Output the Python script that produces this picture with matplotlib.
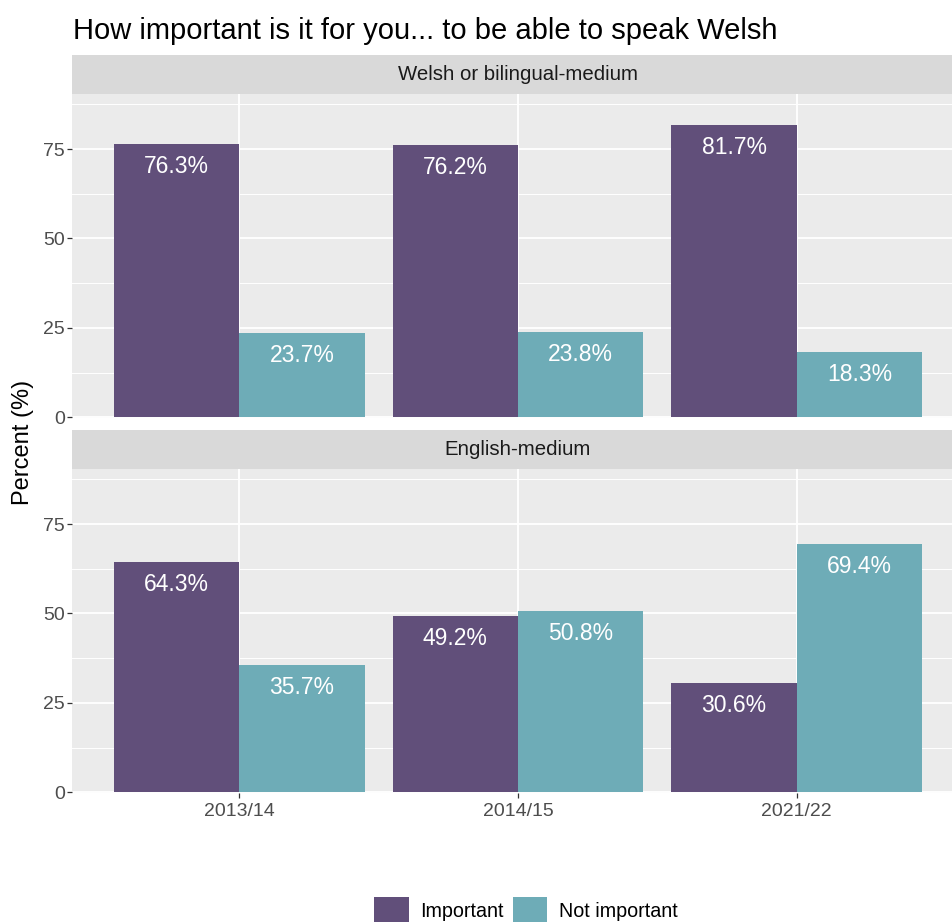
"""Grouped bar chart: importance of speaking Welsh, by school medium and year."""
import matplotlib
matplotlib.use("Agg")
import matplotlib.pyplot as plt
import numpy as np
from matplotlib.patches import Patch
from matplotlib.ticker import MultipleLocator

plt.rcParams['font.family'] = ['Liberation Sans', 'DejaVu Sans']

years = ['2013/14', '2014/15', '2021/22']
groups = ['Important', 'Not important']
panels = ['Welsh or bilingual-medium', 'English-medium']
welsh_important = [76.3, 76.2, 81.7]
welsh_not = [23.7, 23.8, 18.3]
english_important = [64.3, 49.2, 30.6]
english_not = [35.7, 50.8, 69.4]

PURPLE = '#614F7A'
TEAL = '#6EACB7'
PANEL_BG = '#EBEBEB'
STRIP_BG = '#D9D9D9'

W, H = 952, 922
fig = plt.figure(figsize=(W / 100, H / 100), dpi=100)


def px_axes(x0, y0, x1, y1):
    # pixel box (top-left origin) -> figure axes
    return fig.add_axes([x0 / W, 1 - y1 / H, (x1 - x0) / W, (y1 - y0) / H])


def draw_panel(ax, strip_ax, title, important, not_important, show_x):
    x = np.arange(len(years))
    ax.set_facecolor(PANEL_BG)
    ax.set_xlim(-0.6, 2.6)
    ax.set_ylim(-0.2, 90.4)
    ax.yaxis.set_major_locator(MultipleLocator(25))
    ax.yaxis.set_minor_locator(MultipleLocator(12.5))
    ax.grid(which='major', color='white', linewidth=1.3)
    ax.grid(which='minor', axis='y', color='white', linewidth=0.7)
    ax.set_axisbelow(True)
    for s in ax.spines.values():
        s.set_visible(False)

    b1 = ax.bar(x - 0.225, important, width=0.45, color=PURPLE, label=groups[0])
    b2 = ax.bar(x + 0.225, not_important, width=0.45, color=TEAL, label=groups[1])
    for bars, vals in ((b1, important), (b2, not_important)):
        for rect, v in zip(bars, vals):
            ax.annotate(f'{v}%', (rect.get_x() + rect.get_width() / 2, v),
                        xytext=(0, -16.2), textcoords='offset points',
                        ha='center', va='center', color='white', fontsize=16.5)

    ax.set_xticks(x)
    ax.tick_params(axis='both', which='major', length=3.3, width=0.9,
                   color='#333333', labelcolor='#4D4D4D', labelsize=14)
    ax.tick_params(axis='y', which='minor', length=0)
    ax.tick_params(axis='y', pad=2)
    if show_x:
        ax.set_xticklabels(years)
        ax.tick_params(axis='x', pad=4)
    else:
        ax.tick_params(axis='x', length=0, labelbottom=False)

    strip_ax.set_facecolor(STRIP_BG)
    strip_ax.set_xticks([])
    strip_ax.set_yticks([])
    for s in strip_ax.spines.values():
        s.set_visible(False)
    strip_ax.text(0.5, 0.5, title, ha='center', va='center',
                  color='#1A1A1A', fontsize=14.7, transform=strip_ax.transAxes)
    return b1, b2


# panels run past the right edge of the image (cropped, as in the source)
strip1 = px_axes(72, 55, 964, 94)
ax1 = px_axes(72, 94, 964, 418)
strip2 = px_axes(72, 430, 964, 469)
ax2 = px_axes(72, 469, 964, 793)

draw_panel(ax1, strip1, panels[0], welsh_important, welsh_not, show_x=False)
draw_panel(ax2, strip2, panels[1], english_important, english_not, show_x=True)

fig.text(73 / W, 1 - 39 / H, 'How important is it for you... to be able to speak Welsh',
         ha='left', va='baseline', fontsize=21, color='black')
fig.text(23 / W, 1 - 442 / H, 'Percent (%)', rotation=90, ha='center', va='center',
         fontsize=17, color='black')

handles = [Patch(facecolor=PURPLE, edgecolor='none', label=groups[0]),
           Patch(facecolor=TEAL, edgecolor='none', label=groups[1])]
fig.legend(handles=handles, loc='center', bbox_to_anchor=(526 / W, 1 - 911 / H),
           ncol=2, frameon=False, fontsize=14.2, handlelength=1.75, handleheight=1.75,
           handletextpad=0.6, columnspacing=0.45, borderpad=0)

fig.savefig('out.png', dpi=100)
